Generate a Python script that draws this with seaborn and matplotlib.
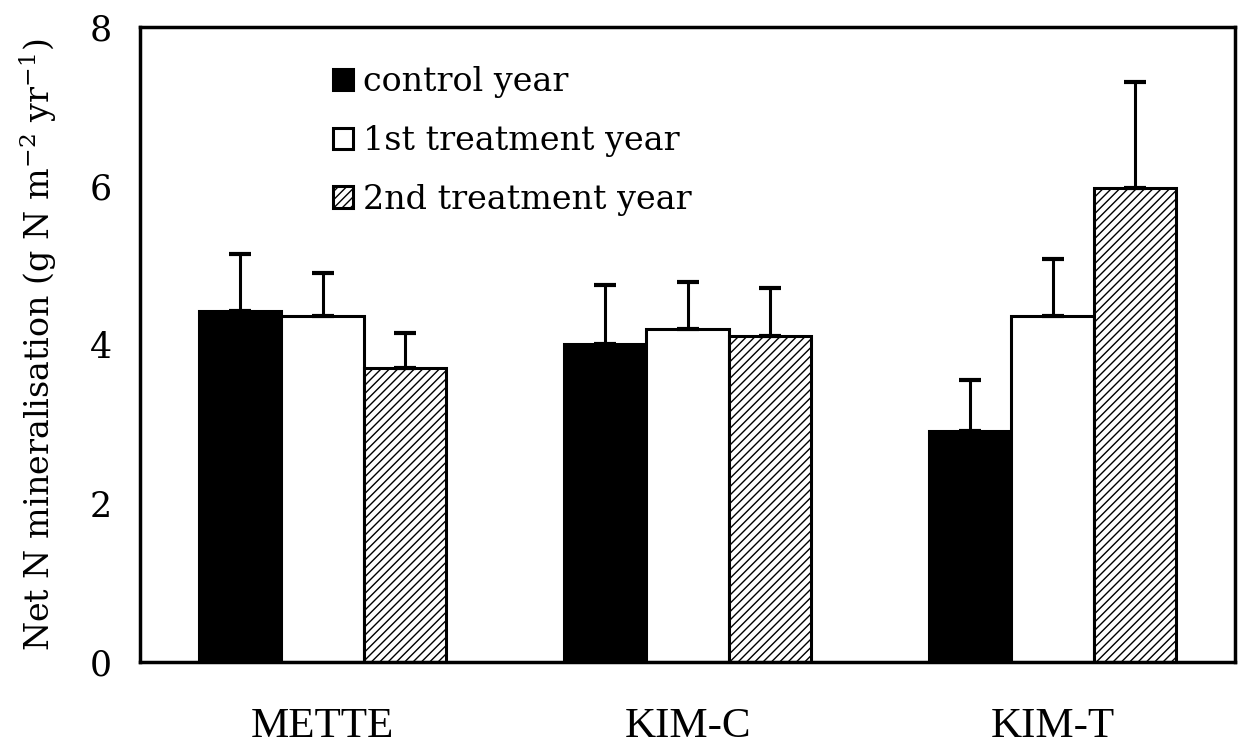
import matplotlib
matplotlib.use("Agg")
import matplotlib.pyplot as plt
import seaborn as sns
import pandas as pd
import numpy as np

categories = ["METTE", "KIM-C", "KIM-T"]
series = ["control year", "1st treatment year", "2nd treatment year"]
control = [4.42, 4.01, 2.91]
control_err = [0.72, 0.74, 0.64]
first_year = [4.36, 4.20, 4.36]
first_err = [0.54, 0.59, 0.72]
second_year = [3.71, 4.11, 5.97]
second_err = [0.44, 0.60, 1.34]
y_ticks = [0, 2, 4, 6, 8]

values = [control, first_year, second_year]
errors = [control_err, first_err, second_err]

rows = []
for s, vals in zip(series, values):
    for c, v in zip(categories, vals):
        rows.append({"site": c, "year": s, "value": v})
df = pd.DataFrame(rows)

sns.set_style("white")
plt.rcParams["font.family"] = ["DejaVu Serif"]
plt.rcParams["mathtext.fontset"] = "dejavuserif"
plt.rcParams["hatch.linewidth"] = 1.0
plt.rcParams["text.color"] = "black"
plt.rcParams["axes.labelcolor"] = "black"
plt.rcParams["xtick.color"] = "black"
plt.rcParams["ytick.color"] = "black"

fig = plt.figure(figsize=(12.39, 7.45), dpi=100)
ax = fig.add_axes([0.113, 0.1114, 0.8838, 0.8524])

sns.barplot(data=df, x="site", y="value", hue="year", order=categories,
            hue_order=series, palette=["black", "white", "white"],
            width=0.675, errorbar=None, ax=ax, legend=False,
            edgecolor="black", linewidth=2, saturation=1)

bar_containers = list(ax.containers)
hatches = [None, None, "////"]
for cont, h, errs in zip(bar_containers, hatches, errors):
    xs, ys = [], []
    for p in cont.patches:
        p.set_edgecolor("black")
        p.set_linewidth(2.2)
        if h:
            p.set_hatch(h)
        xs.append(p.get_x() + p.get_width() / 2)
        ys.append(p.get_height())
    ax.errorbar(xs, ys, yerr=[np.zeros(len(errs)), errs], fmt="none",
                ecolor="black", elinewidth=2.2, capsize=8, capthick=3,
                zorder=1)

handles = [c.patches[0] for c in bar_containers]
leg = ax.legend(handles, series, loc="upper left",
                bbox_to_anchor=(0.149, 0.985), frameon=False,
                handlelength=0.6, handleheight=0.6, handletextpad=0.3,
                labelspacing=0.8, prop={"family": "DejaVu Serif", "size": 24})
for t in leg.get_texts():
    t.set_color("black")

ax.set_ylim(0, 8)
ax.set_xlim(-0.5, 2.5)
ax.set_yticks(y_ticks)
ax.set_yticklabels([str(t) for t in y_ticks], fontsize=25)
ax.set_xticks([0, 1, 2])
ax.set_xticklabels(categories, fontsize=31, family="Liberation Serif")
ax.set_xticks([-0.5, 0.5, 1.5, 2.5], minor=True)
ax.tick_params(axis="x", which="major", length=0, pad=33)
ax.tick_params(axis="x", which="minor", direction="inout", length=22, width=1, color="black")
ax.tick_params(axis="y", direction="inout", length=14, width=1, color="black", pad=13)
ax.set_xlabel("")
ax.set_ylabel("Net N mineralisation (g N m$^{-2}$ yr$^{-1}$)", fontsize=24, labelpad=22)

for s in ax.spines.values():
    s.set_visible(True)
    s.set_color("black")
    s.set_linewidth(2.5)

fig.savefig("out.png", dpi=100, facecolor="white")
